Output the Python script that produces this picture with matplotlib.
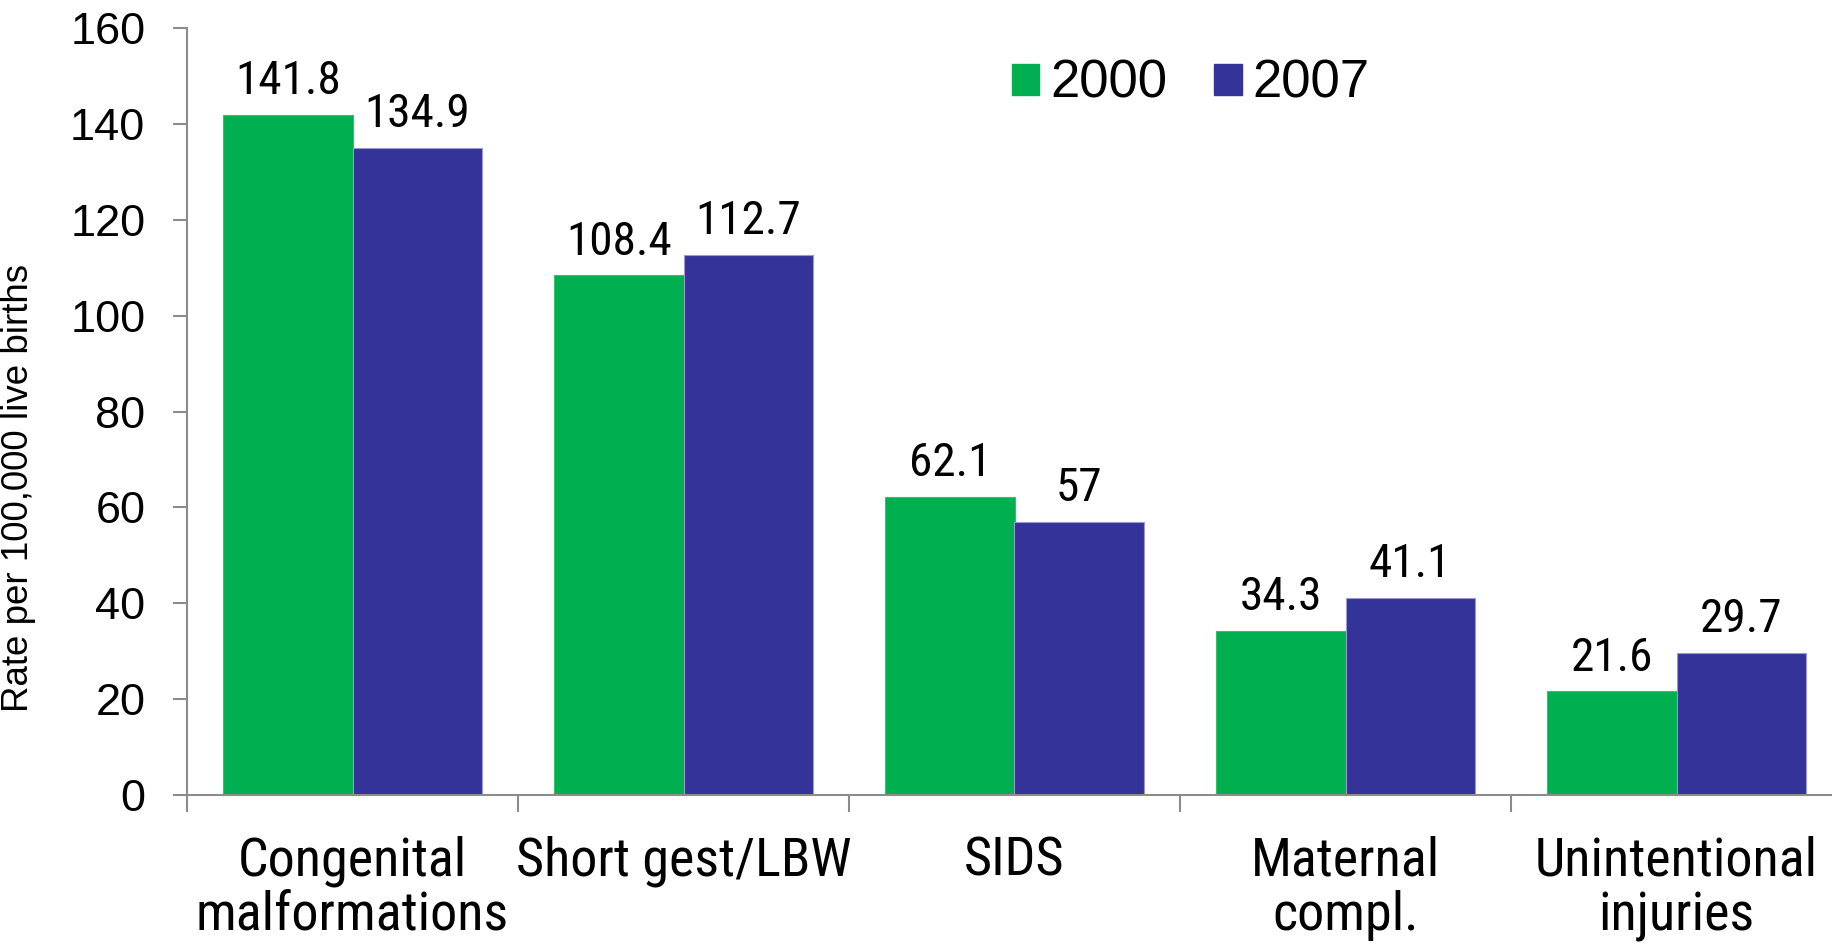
import numpy as np
from matplotlib import pyplot as plt
from matplotlib.patches import Patch
from matplotlib.ticker import FixedLocator

categories = ["Congenital\nmalformations", "Short gest/LBW", "SIDS",
              "Maternal\ncompl.", "Unintentional\ninjuries"]
rate_2000 = [141.8, 108.4, 62.1, 34.3, 21.6]
rate_2007 = [134.9, 112.7, 57, 41.1, 29.7]
yticks = [0, 20, 40, 60, 80, 100, 120, 140, 160]

green = "#00b050"
blue = "#333399"
axis_grey = "#8c8c8c"
narrow = ["Roboto Condensed", "DejaVu Sans"]
wide = ["Liberation Sans", "DejaVu Sans"]

fig = plt.figure(figsize=(18.33, 9.49), dpi=100)
ax = fig.add_axes([187/1833, 1 - 795/949, 1655/1833, 767/949])

x = np.arange(len(categories))
w = 0.39
b1 = ax.bar(x - w/2, rate_2000, w, color=green, edgecolor="#33c070", linewidth=0.8)
b2 = ax.bar(x + w/2, rate_2007, w, color=blue, edgecolor="#9a9ad0", linewidth=0.8)

for bars, vals in ((b1, rate_2000), (b2, rate_2007)):
    for r, v in zip(bars, vals):
        ax.annotate("{:g}".format(v), (r.get_x() + r.get_width()/2, v),
                    xytext=(0, 15), textcoords="offset points",
                    ha="center", va="baseline", fontsize=34, family=narrow)

ax.set_xlim(-0.5, len(categories) - 0.5)
ax.set_ylim(0, 160)

# boundaries carry tick marks, centres carry the labels
ax.xaxis.set_major_locator(FixedLocator(np.arange(len(categories) + 1) - 0.5))
ax.xaxis.set_major_formatter(plt.NullFormatter())
ax.xaxis.set_minor_locator(FixedLocator(x))
ax.set_xticklabels(categories, minor=True, fontsize=39, family=narrow, linespacing=1.1)
ax.tick_params(axis="x", which="major", length=12, width=1.5, color=axis_grey, direction="out")
ax.tick_params(axis="x", which="minor", length=0, pad=29)

ax.set_yticks(yticks)
ax.set_yticklabels([str(t) for t in yticks], fontsize=32.5, family=wide)
ax.tick_params(axis="y", length=10, width=1.5, color=axis_grey, pad=20)

for s in ("top", "right"):
    ax.spines[s].set_visible(False)
for s in ("left", "bottom"):
    ax.spines[s].set_color(axis_grey)
    ax.spines[s].set_linewidth(1.5)

ax.set_ylabel("Rate per 100,000 live births", fontsize=26.5, family=wide)
ax.yaxis.set_label_coords(-0.091, 0.40)

handles = [Patch(color=green), Patch(color=blue)]
fig.legend(handles, ["2000", "2007"], loc="center left", bbox_to_anchor=(1012/1833, 1 - 84/949),
           ncol=2, frameon=False, prop={"family": wide, "size": 38},
           handlelength=0.52, handleheight=0.52, handletextpad=0.2, columnspacing=0.9,
           borderpad=0, borderaxespad=0)

fig.savefig("out.png", dpi=100)
